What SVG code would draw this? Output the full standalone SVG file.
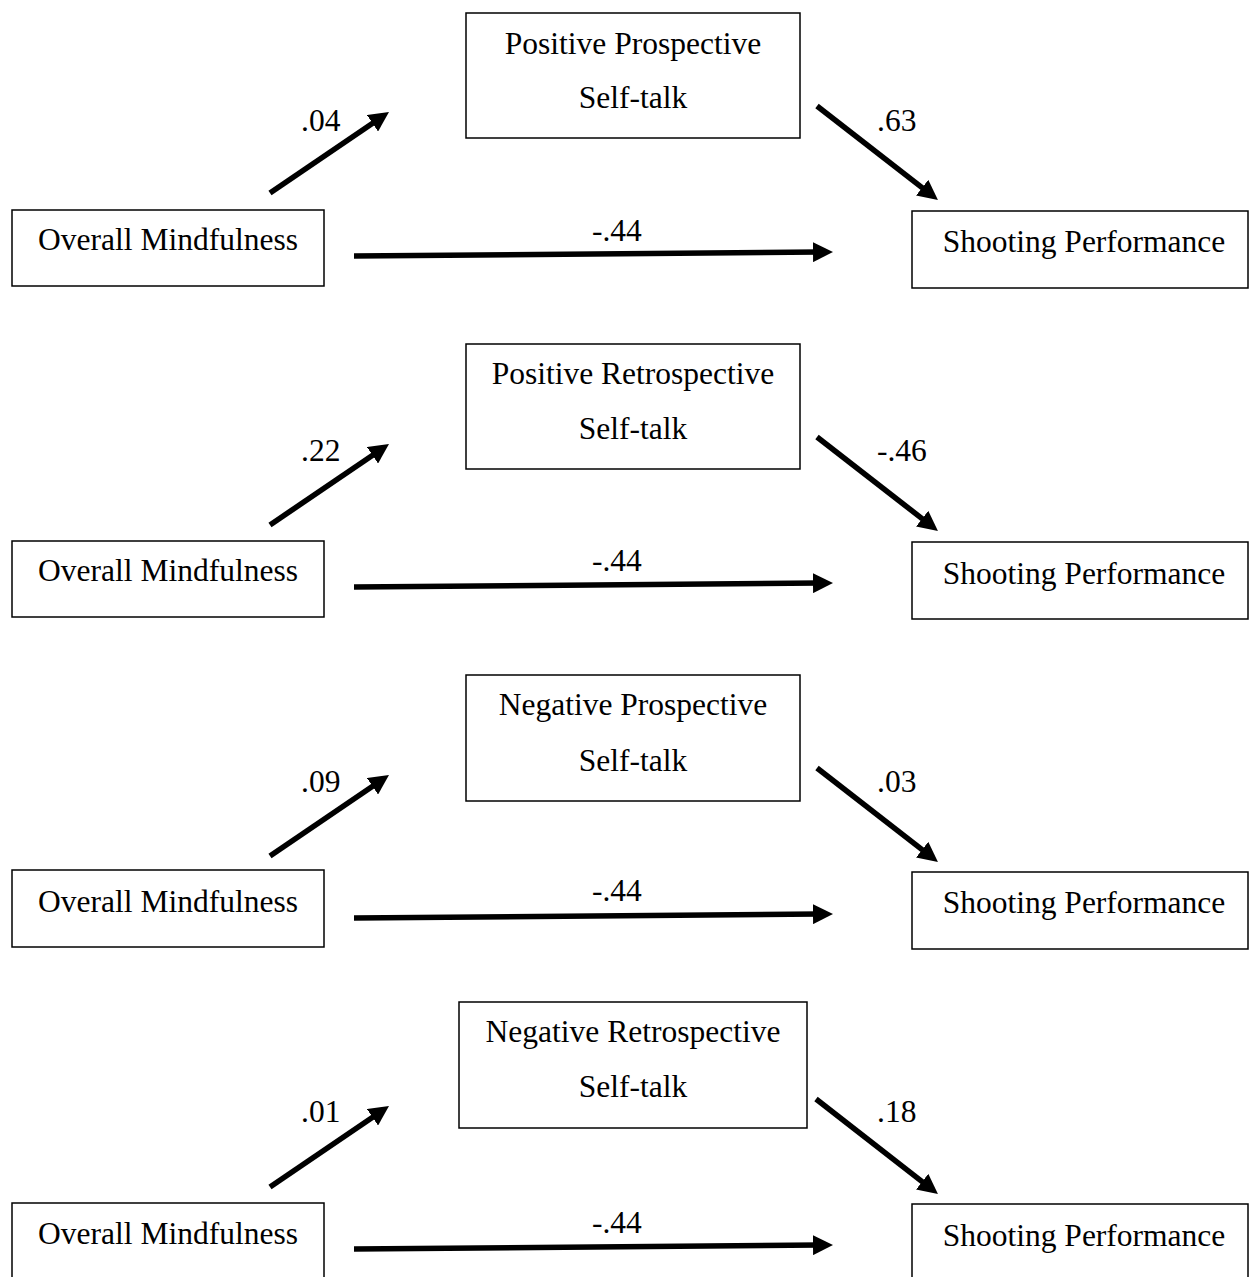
<svg xmlns="http://www.w3.org/2000/svg" width="1249" height="1277" viewBox="0 0 1249 1277">
<style>
.box{fill:#fff;stroke:#000;stroke-width:1.5}
.t{font-family:"Liberation Serif","Times New Roman",serif;font-size:31.5px;fill:#000}
.c{text-anchor:middle}
.arr{stroke:#000;stroke-width:5.5;fill:none;marker-end:url(#ah)}
</style>
<defs>
<marker id="ah" markerUnits="userSpaceOnUse" markerWidth="20" markerHeight="20" refX="6" refY="10" orient="auto" viewBox="0 0 20 20">
<path d="M0,0 L20,10 L0,20 z" fill="#000"/>
</marker>
</defs>
<rect width="1249" height="1277" fill="#fff"/>

<!-- Panel 1 -->
<g id="panel1">
<g id="p1-mediator"><rect class="box" x="466" y="13" width="334" height="125"/>
<text class="t c" x="633" y="54">Positive Prospective</text>
<text class="t c" x="633" y="108">Self-talk</text></g>
<g id="p1-mindfulness"><rect class="box" x="12" y="210" width="312" height="76"/>
<text class="t c" x="168" y="250">Overall Mindfulness</text></g>
<g id="p1-performance"><rect class="box" x="912" y="211" width="336" height="77"/>
<text class="t c" x="1084" y="252">Shooting Performance</text></g>
<g id="p1-connectors">
<line class="arr" x1="270" y1="193" x2="377.4" y2="119.9"/>
<line class="arr" x1="817" y1="106" x2="926.9" y2="191.4"/>
<line class="arr" x1="354" y1="256" x2="819" y2="252.1"/>
<text class="t" x="301" y="131">.04</text>
<text class="t" x="877" y="131">.63</text>
<text class="t" x="592" y="241">-.44</text>
</g>
</g>

<!-- Panel 2 -->
<g id="panel2" transform="translate(0,331)">
<g id="p2-mediator"><rect class="box" x="466" y="13" width="334" height="125"/>
<text class="t c" x="633" y="53">Positive Retrospective</text>
<text class="t c" x="633" y="108">Self-talk</text></g>
<g id="p2-mindfulness"><rect class="box" x="12" y="210" width="312" height="76"/>
<text class="t c" x="168" y="250">Overall Mindfulness</text></g>
<g id="p2-performance"><rect class="box" x="912" y="211" width="336" height="77"/>
<text class="t c" x="1084" y="253">Shooting Performance</text></g>
<g id="p2-connectors">
<line class="arr" x1="270" y1="194" x2="377.4" y2="120.9"/>
<line class="arr" x1="817" y1="106" x2="926.9" y2="191.4"/>
<line class="arr" x1="354" y1="256" x2="819" y2="252.1"/>
<text class="t" x="301" y="130">.22</text>
<text class="t" x="877" y="130">-.46</text>
<text class="t" x="592" y="240">-.44</text>
</g>
</g>

<!-- Panel 3 -->
<g id="panel3" transform="translate(0,661)">
<g id="p3-mediator"><rect class="box" x="466" y="14" width="334" height="126"/>
<text class="t c" x="633" y="54">Negative Prospective</text>
<text class="t c" x="633" y="110">Self-talk</text></g>
<g id="p3-mindfulness"><rect class="box" x="12" y="209" width="312" height="77"/>
<text class="t c" x="168" y="251">Overall Mindfulness</text></g>
<g id="p3-performance"><rect class="box" x="912" y="211" width="336" height="77"/>
<text class="t c" x="1084" y="252">Shooting Performance</text></g>
<g id="p3-connectors">
<line class="arr" x1="270" y1="195" x2="377.4" y2="121.9"/>
<line class="arr" x1="817" y1="107" x2="926.9" y2="192.4"/>
<line class="arr" x1="354" y1="257" x2="819" y2="253.1"/>
<text class="t" x="301" y="131">.09</text>
<text class="t" x="877" y="131">.03</text>
<text class="t" x="592" y="240">-.44</text>
</g>
</g>

<!-- Panel 4 -->
<g id="panel4" transform="translate(0,993)">
<g id="p4-mediator"><rect class="box" x="459" y="9" width="348" height="126"/>
<text class="t c" x="633" y="49">Negative Retrospective</text>
<text class="t c" x="633" y="104">Self-talk</text></g>
<g id="p4-mindfulness"><rect class="box" x="12" y="210" width="312" height="77"/>
<text class="t c" x="168" y="251">Overall Mindfulness</text></g>
<g id="p4-performance"><rect class="box" x="912" y="211" width="336" height="77"/>
<text class="t c" x="1084" y="253">Shooting Performance</text></g>
<g id="p4-connectors">
<line class="arr" x1="270" y1="194" x2="377.4" y2="120.9"/>
<line class="arr" x1="816" y1="106" x2="926.9" y2="192.4"/>
<line class="arr" x1="354" y1="256" x2="819" y2="252.1"/>
<text class="t" x="301" y="129">.01</text>
<text class="t" x="877" y="129">.18</text>
<text class="t" x="592" y="240">-.44</text>
</g>
</g>
</svg>
